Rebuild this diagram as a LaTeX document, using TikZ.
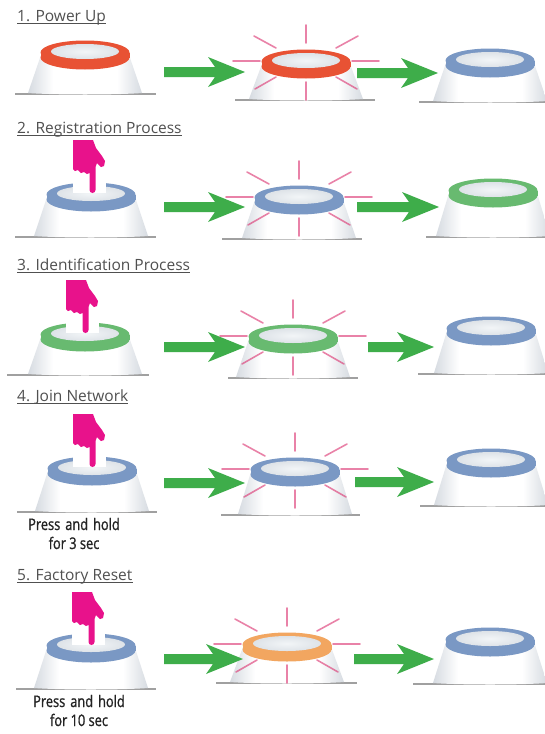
\documentclass[tikz,border=0pt]{standalone}
\usepackage{fontspec}
\setmainfont{Open Sans}
\newfontfamily\condfont[FakeStretch=0.8, FakeBold=1]{Open Sans}
\usetikzlibrary{calc}

\definecolor{ringred}{RGB}{232,82,52}
\definecolor{ringblue}{RGB}{122,152,196}
\definecolor{ringgreen}{RGB}{104,186,112}
\definecolor{ringorange}{RGB}{242,166,96}
\definecolor{arrowgreen}{RGB}{62,173,74}
\definecolor{raypink}{RGB}{219,48,110}
\definecolor{handpink}{RGB}{232,18,139}
\definecolor{topface}{RGB}{222,227,232}
\definecolor{topglow}{RGB}{242,245,247}
\definecolor{bodyedge}{RGB}{214,219,225}
\definecolor{floorgray}{RGB}{160,160,160}
\definecolor{titlegray}{RGB}{80,80,80}
\definecolor{captiondark}{RGB}{35,35,35}

% white cone with grey sides
\pgfdeclarehorizontalshading{lampshade}{100bp}{%
  color(0bp)=(bodyedge); color(25bp)=(bodyedge); color(36bp)=(white);
  color(64bp)=(white); color(75bp)=(bodyedge); color(100bp)=(bodyedge)}

\tikzset{
  title/.style={inner sep=0pt, anchor=base west, text=titlegray,
    font=\fontsize{15.5}{18}\selectfont},
  uline/.style={draw=titlegray, line width=0.8pt},
  caption/.style={inner sep=0pt, anchor=base, text=captiondark,
    font=\condfont\fontsize{16}{18}\selectfont},
  floor/.style={draw=floorgray, line width=1.2pt},
  ray/.style={draw=raypink, line width=1.6pt, opacity=0.6, line cap=round},
}

% body of the lamp: a widening cone under the ring (cx, cy, bottom)
\newcommand{\lampbody}[3]{%
  \shade[shading=lampshade]
    (#1-44,#2) -- (#1-57,#3) .. controls (#1-30,#3+2) and (#1+30,#3+2) ..
    (#1+57,#3) -- (#1+44,#2) -- cycle;}

% light ring with its pale top face (cx, cy, colour)
\newcommand{\lampring}[3]{%
  \fill[#3] (#1,#2+2.5) ellipse[x radius=44.5, y radius=12];
  \fill[#3] (#1,#2-2.5) ellipse[x radius=44.5, y radius=12];
  \fill[#3] (#1-44.5,#2-2.5) rectangle (#1+44.5,#2+2.5);
  \shade[inner color=topglow, outer color=topface]
    (#1,#2-3.5) ellipse[x radius=34, y radius=7.5];}

% blinking rays around the ring (cx, cy)
\newcommand{\lamprays}[2]{%
  \begin{scope}[shift={(#1,#2)}]
    \foreach \ax/\ay/\bx/\by in {0/-21/0/-39, 30/-16/52/-28, 46/-3/73/-3,
        30/13/51/25, 0/18/0/36, -30/-16/-52/-28, -46/-3/-73/-3, -30/13/-51/25}
      \draw[ray] (\ax,\ay) -- (\bx,\by);
  \end{scope}}

% complete lamp: name, cx, cy, bottom, ring colour, blinking (1/0)
\newcommand{\lamp}[6]{%
  \coordinate (#1) at (#2,#3);
  \lampbody{#2}{#3}{#4}
  \ifnum#6=1 \lamprays{#2}{#3}\fi
  \lampring{#2}{#3}{#5}}

% pointing hand with its white cuff, top-left corner at (x, y)
\newcommand{\presshand}[3]{%
  \begin{scope}[shift={(#2,#3)}]
    \coordinate (#1) at (16,0);
    \fill[white] (0,28) rectangle (33,53);
    \fill[handpink] (0,0) -- (20,0) -- (23,8) -- (29,16) -- (32,21)
      -- (31,26) -- (28,27) -- (24,23) -- (22.5,27) -- (22.5,50)
      arc[start angle=0, end angle=180, radius=3]
      -- (16.5,33) -- (14,34) -- (11,32) -- (8,33) -- (5,30) -- (2,31)
      -- (0,29) -- cycle;
  \end{scope}}

% fat green step arrow between two named points
\newcommand{\steparrow}[2]{%
  \fill[arrowgreen] ($(#1)+(0,-5)$) -- ($(#2)+(-30,-5)$) -- ($(#2)+(-37,-15)$)
    -- (#2) -- ($(#2)+(-37,15)$) -- ($(#2)+(-30,5)$) -- ($(#1)+(0,5)$) -- cycle;}

\newcommand{\steptitle}[4]{%
  \node[title] (#1) at (#2,#3) {#4};
  \draw[uline] ([yshift=-2.5pt]#1.base west) -- ([yshift=-2.5pt]#1.base east);}

\begin{document}
\begin{tikzpicture}[x=1pt, y=-1pt]
\useasboundingbox (0,0) rectangle (545,734);
\fill[white] (0,0) rectangle (545,734);

% ---------- 1. Power Up ----------
\steptitle{t1}{17}{21}{1. Power Up}
\draw[floor] (15,94) -- (156,94);
\lamp{l1a}{85}{55}{93}{ringred}{0}
\draw[floor] (235,100) -- (375,100);
\lamp{l1b}{306}{64}{99}{ringred}{1}
\draw[floor] (419,102) -- (545,102);
\lamp{l1c}{490}{63}{101}{ringblue}{0}
\coordinate (a1s) at (164,72); \coordinate (a1e) at (245,72);
\coordinate (b1s) at (357,73); \coordinate (b1e) at (438,73);
\steparrow{a1s}{a1e}
\steparrow{b1s}{b1e}

% ---------- 2. Registration Process ----------
\steptitle{t2}{17}{133}{2. Registration Process}
\draw[floor] (15,237) -- (156,237);
\lamp{l2a}{91}{197}{236}{ringblue}{0}
\presshand{h2}{73}{140}
\draw[floor] (222,239) -- (362,239);
\lamp{l2b}{299}{200}{238}{ringblue}{1}
\draw[floor] (426,237) -- (545,237);
\lamp{l2c}{493}{193}{236}{ringgreen}{0}
\coordinate (a2s) at (164,207); \coordinate (a2e) at (245,207);
\coordinate (b2s) at (357,207); \coordinate (b2e) at (439,207);
\steparrow{a2s}{a2e}
\steparrow{b2s}{b2e}

% ---------- 3. Identification Process ----------
\steptitle{t3}{17}{270}{3. Identification Process}
\draw[floor] (7,375) -- (149,375);
\lamp{l3a}{85}{337}{374}{ringgreen}{0}
\presshand{h3}{66}{280}
\draw[floor] (228,378) -- (358,378);
\lamp{l3b}{293}{339}{377}{ringgreen}{1}
\draw[floor] (418,374) -- (545,374);
\lamp{l3c}{491}{331}{373}{ringblue}{0}
\coordinate (a3s) at (164,347); \coordinate (a3e) at (245,347);
\coordinate (b3s) at (368,347); \coordinate (b3e) at (434,347);
\steparrow{a3s}{a3e}
\steparrow{b3s}{b3e}

% ---------- 4. Join Network ----------
\steptitle{t4}{17}{401}{4. Join Network}
\draw[floor] (17,512) -- (157,512);
\lamp{l4a}{92}{471}{511}{ringblue}{0}
\presshand{h4}{73}{414}
\node[caption] (c4a) at (74,530) {Press\hspace{5pt}and\hspace{5pt}hold};
\node[caption] (c4b) at (74,549) {for 3 sec};
\draw[floor] (221,515) -- (360,515);
\lamp{l4b}{295}{472}{514}{ringblue}{1}
\draw[floor] (420,506) -- (545,506);
\lamp{l4c}{491}{463}{505}{ringblue}{0}
\coordinate (a4s) at (164,483); \coordinate (a4e) at (245,483);
\coordinate (b4s) at (355,482); \coordinate (b4e) at (434,482);
\steparrow{a4s}{a4e}
\steparrow{b4s}{b4e}

% ---------- 5. Factory Reset ----------
\steptitle{t5}{17}{580}{5. Factory Reset}
\draw[floor] (16,689) -- (156,689);
\lamp{l5a}{91}{648}{688}{ringblue}{0}
\presshand{h5}{72}{592}
\node[caption] (c5a) at (79,707) {Press\hspace{5pt}and\hspace{5pt}hold};
\node[caption] (c5b) at (79,726) {for 10 sec};
\draw[floor] (216,683) -- (357,683);
\lamp{l5b}{287}{647}{682}{ringorange}{1}
\draw[floor] (413,684) -- (545,684);
\lamp{l5c}{490}{642}{683}{ringblue}{0}
\coordinate (a5s) at (164,659); \coordinate (a5e) at (243,659);
\coordinate (b5s) at (354,659); \coordinate (b5e) at (434,659);
\steparrow{a5s}{a5e}
\steparrow{b5s}{b5e}
\end{tikzpicture}
\end{document}
